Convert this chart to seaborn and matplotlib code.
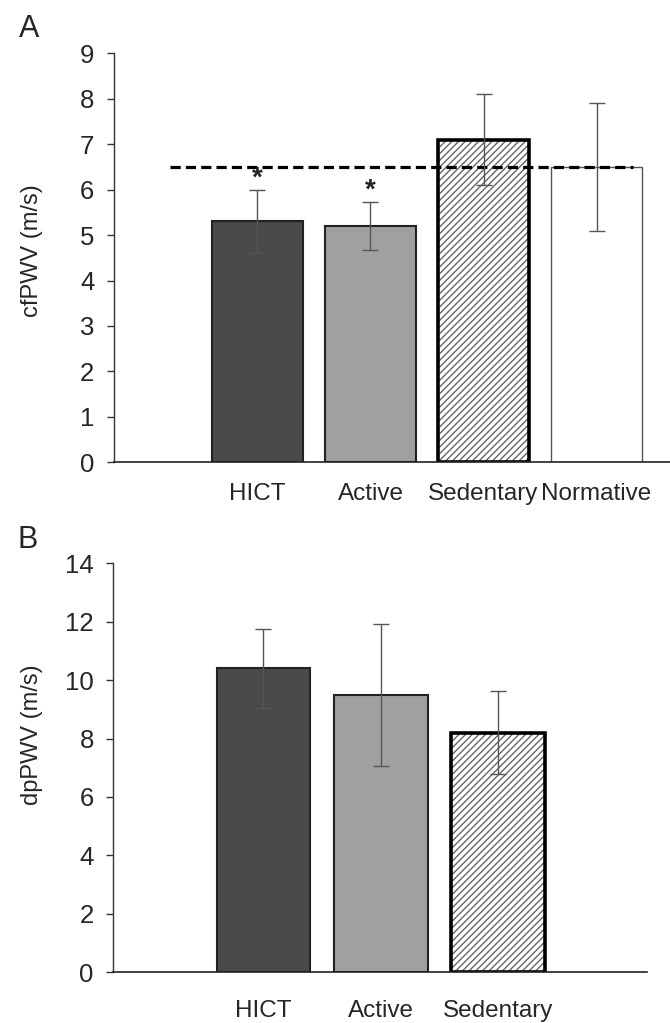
import numpy as np
import pandas as pd
import matplotlib
matplotlib.use("Agg")
import matplotlib.pyplot as plt
import matplotlib.patches as mpatches
import seaborn as sns

# panel A data
groups_a = ["HICT", "Active", "Sedentary", "Normative"]
cfpwv = [5.3, 5.2, 7.1, 6.5]
cfpwv_err = [0.7, 0.53, 1.0, 1.4]
normative_ref = 6.5
star_groups = ["HICT", "Active"]

# panel B data
groups_b = ["HICT", "Active", "Sedentary"]
dppwv = [10.4, 9.5, 8.2]
dppwv_err = [1.34, 2.43, 1.43]

sns.set_style("ticks")
plt.rcParams["font.family"] = ["Liberation Sans", "DejaVu Sans"]
plt.rcParams["hatch.linewidth"] = 1.0

fills = {"HICT": "#4a4a4a", "Active": "#a0a0a0", "Sedentary": "white", "Normative": "white"}
edges = {"HICT": ("#222222", 1.5), "Active": ("#222222", 1.5),
         "Sedentary": ("black", 2.6), "Normative": ("#555555", 1.0)}

fig = plt.figure(figsize=(6.7, 10.23), dpi=100)
ax1 = fig.add_axes([0.170, 0.548, 0.830, 0.400])
ax2 = fig.add_axes([0.169, 0.0496, 0.797, 0.3998])


def draw_panel(ax, groups, vals, errs, ylab, ymax, step, xlim, xpad, ylab_pos):
    df = pd.DataFrame({"group": groups, "value": vals})
    sns.barplot(data=df, x="group", y="value", hue="group", order=groups,
                palette=[fills[g] for g in groups], legend=False,
                width=0.8, saturation=1, ax=ax, zorder=2)
    for patch, g in list(zip(ax.patches, groups)):
        ec, lw = edges[g]
        if g == "Sedentary":
            # gray hatch inside, heavy black outline on top
            patch.set_hatch("/////")
            patch.set_edgecolor("#666666")
            patch.set_linewidth(0)
            outline = mpatches.Rectangle(patch.get_xy(), patch.get_width(), patch.get_height(),
                                         facecolor="none", edgecolor=ec, linewidth=lw, zorder=2.5)
            ax.add_patch(outline)
        else:
            patch.set_edgecolor(ec)
            patch.set_linewidth(lw)
    ax.errorbar(np.arange(len(groups)), vals, yerr=errs, fmt="none",
                ecolor="#555555", elinewidth=1.0, capsize=5.8, capthick=1.0, zorder=4)
    ax.set_ylim(0, ymax)
    ax.set_yticks(np.arange(0, ymax + 0.1, step))
    ax.set_xlim(*xlim)
    ax.set_xlabel("")
    ax.set_ylabel(ylab, fontsize=17)
    ax.yaxis.set_label_coords(*ylab_pos)
    sns.despine(ax=ax)
    ax.spines["left"].set_linewidth(1.0)
    ax.spines["bottom"].set_linewidth(1.2)
    ax.spines["left"].set_color("#333333")
    ax.spines["bottom"].set_color("#222222")
    ax.spines["left"].set_bounds(0, ymax)
    ax.tick_params(axis="y", labelsize=18.5, length=5, width=1, pad=9, color="#333333")
    ax.tick_params(axis="x", labelsize=17.5, length=0, pad=xpad)
    ax.set_facecolor("white")


draw_panel(ax1, groups_a, cfpwv, cfpwv_err, "cfPWV (m/s)", 9, 1, (-1.27, 3.65), 15, (-0.128, 0.518))
draw_panel(ax2, groups_b, dppwv, dppwv_err, "dpPWV (m/s)", 14, 2, (-1.28, 3.27), 20, (-0.131, 0.58))

ax1.hlines(normative_ref, -0.77, 3.32, colors="black", linestyles=(0, (3.2, 1.6)),
           linewidth=2.3, zorder=3)
for g in star_groups:
    i = groups_a.index(g)
    ax1.text(i, cfpwv[i] + cfpwv_err[i] + 0.25, "*", ha="center", va="center",
             fontsize=20, fontweight="bold", color="#222222")

fig.text(0.028, 0.972, "A", fontsize=22, va="center", ha="left")
fig.text(0.026, 0.472, "B", fontsize=22, va="center", ha="left")

fig.savefig("out.png", dpi=100, facecolor="white")
